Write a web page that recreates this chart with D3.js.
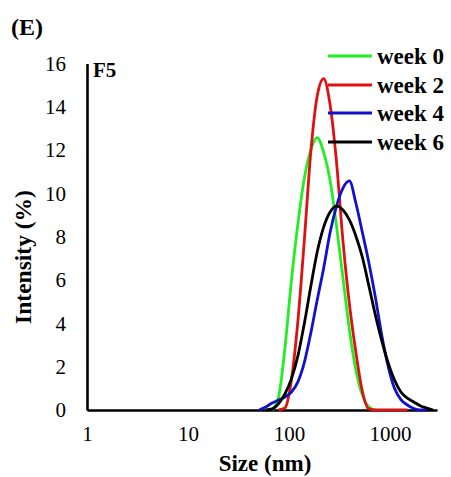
<!DOCTYPE html>
<html>
<head>
<meta charset="utf-8">
<script src="https://cdn.jsdelivr.net/npm/d3@7"></script>
<style>
  html, body { margin: 0; padding: 0; background: #fff; }
  svg { display: block; }
  text { font-family: "Liberation Serif", "Times New Roman", serif; }
</style>
</head>
<body>
<svg id="chart" width="451" height="477"></svg>
<script>
// Size bins (nm)
const sizes = [50.75, 58.77, 68.06, 78.82, 91.28, 105.7, 122.4, 141.8, 164.2, 190.1,
               220.2, 255.0, 295.3, 342.0, 396.1, 458.7, 531.2, 615.1, 712.4, 825.0,
               955.4, 1106, 1281, 1484, 1718, 1990, 2305, 2669];
// Intensity (%) per bin; null = not drawn
const week0 = [null, null, 0, 0.6, 2.9, 6.0, 8.6, 10.7, 12.0, 12.58,
               11.9, 10.6, 8.5, 6.1, 3.7, 1.85, 0.7, 0.15, 0, null,
               null, null, null, null, null, null, null, null];
const week2 = [null, null, null, 0, 0.1, 1.4, 4.1, 7.85, 11.9, 14.5,
               15.3, 14.1, 11.45, 7.8, 4.9, 2.68, 0.88, 0.05, 0, 0,
               0, 0, 0, 0, null, null, null, null];
const week4 = [0, 0.14, 0.32, 0.46, 0.6, 0.83, 1.3, 2.2, 3.55, 5.08,
               6.55, 8.2, 9.42, 10.25, 10.58, 9.56, 8.22, 6.84, 5.27, 3.5,
               2.03, 1.0, 0.48, 0.23, 0.07, 0, 0, null];
const week6 = [null, 0, 0.05, 0.3, 0.75, 1.45, 2.5, 4.0, 5.7, 7.3,
               8.45, 9.15, 9.42, 9.24, 8.78, 8.04, 7.07, 5.77, 4.43, 3.23,
               2.2, 1.39, 0.83, 0.55, 0.37, 0.2, 0.09, 0];
const seriesNames = ["week 0", "week 2", "week 4", "week 6"];
const seriesColors = ["#22ee22", "#dd1111", "#1111cc", "#000000"];
const xTicks = [1, 10, 100, 1000];
const yTicks = [0, 2, 4, 6, 8, 10, 12, 14, 16];

const svg = d3.select("#chart");
const x = d3.scaleLog().domain([1, 2917]).range([87, 437]);
const y = d3.scaleLinear().domain([0, 16]).range([410, 63.6]);

// Axes
const xAxis = svg.append("g").attr("transform", "translate(0,410)")
  .call(d3.axisBottom(x).tickValues(xTicks).tickFormat(d3.format("d")).tickSize(0).tickSizeOuter(0).tickPadding(16));
const yAxis = svg.append("g").attr("transform", "translate(87,0)")
  .call(d3.axisLeft(y).tickValues(yTicks).tickSize(0).tickSizeOuter(0).tickPadding(21));
[xAxis, yAxis].forEach(a => {
  a.select(".domain").attr("stroke", "#000").attr("stroke-width", 2.6);
  a.selectAll("text").attr("font-family", "Liberation Serif, serif").attr("font-size", 21).attr("fill", "#000");
});

// Lines
const seriesData = [week0, week2, week4, week6];
const line = d3.line()
  .defined(d => d.v !== null)
  .x(d => x(d.s))
  .y(d => y(d.v))
  .curve(d3.curveMonotoneX);
seriesData.forEach((vals, i) => {
  const pts = sizes.map((s, j) => ({ s: s, v: vals[j] }));
  svg.append("path").datum(pts)
    .attr("fill", "none")
    .attr("stroke", seriesColors[i])
    .attr("stroke-width", 2.8)
    .attr("d", line);
});

// Legend
const legY = [56, 85, 113, 142];
seriesNames.forEach((n, i) => {
  svg.append("line").attr("x1", 328).attr("x2", 372)
    .attr("y1", legY[i]).attr("y2", legY[i])
    .attr("stroke", seriesColors[i]).attr("stroke-width", 3);
  svg.append("text").attr("x", 377).attr("y", legY[i] + 8)
    .attr("font-size", 23).attr("font-weight", "bold").text(n);
});

// Labels
svg.append("text").attr("x", 11).attr("y", 35).attr("font-size", 24).attr("font-weight", "bold").text("(E)");
svg.append("text").attr("x", 93).attr("y", 77).attr("font-size", 21).attr("font-weight", "bold").text("F5");
svg.append("text").attr("x", 265).attr("y", 471).attr("text-anchor", "middle")
  .attr("font-size", 23).attr("font-weight", "bold").text("Size (nm)");
svg.append("text").attr("transform", "translate(31,257) rotate(-90)").attr("text-anchor", "middle")
  .attr("font-size", 23.5).attr("font-weight", "bold").text("Intensity (%)");
</script>
</body>
</html>
